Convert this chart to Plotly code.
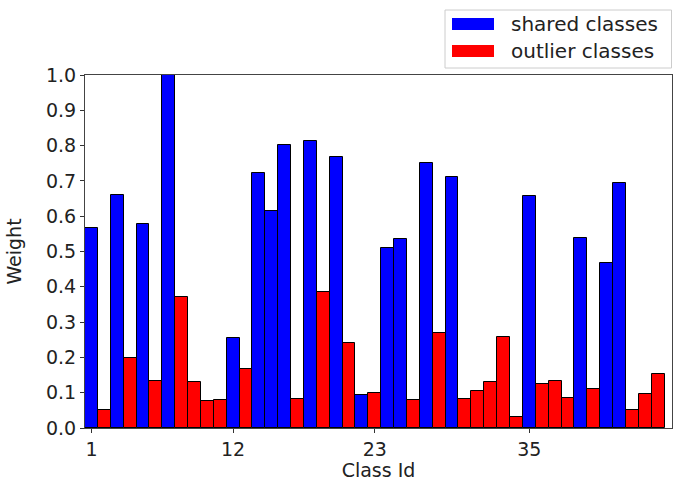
import plotly.graph_objects as go

# Per-class weights: each class is either shared or an outlier
class_ids = list(range(1, 46))
weights = [
    0.568, 0.050, 0.660, 0.199, 0.578, 0.133, 1.000, 0.372, 0.131, 0.077,
    0.080, 0.254, 0.167, 0.722, 0.616, 0.802, 0.081, 0.814, 0.384, 0.769,
    0.240, 0.093, 0.100, 0.509, 0.535, 0.080, 0.752, 0.268, 0.711, 0.081,
    0.105, 0.129, 0.257, 0.030, 0.658, 0.124, 0.133, 0.086, 0.539, 0.110,
    0.468, 0.695, 0.050, 0.096, 0.152,
]
kinds = list("SOSOSOSOOOOSOSSSOSOSOSOSSOSOSOOOOOSOOOSOSSOOO")

series_names = ["shared classes", "outlier classes"]
series_keys = ["S", "O"]
series_colors = ["#0000ff", "#ff0000"]

xtick_vals = [1, 12, 23, 35]
xtick_text = ["1", "12", "23", "35"]
ytick_vals = [round(0.1 * i, 1) for i in range(11)]

FONT = "DejaVu Sans"
TXT = "#222222"

fig = go.Figure()
for name, key, color in zip(series_names, series_keys, series_colors):
    xs = [c for c, k in zip(class_ids, kinds) if k == key]
    ys = [w for w, k in zip(weights, kinds) if k == key]
    fig.add_trace(go.Bar(
        x=xs, y=ys, name=name,
        marker=dict(color=color, line=dict(color="black", width=1)),
        showlegend=False,
    ))

# Legend box drawn in paper coordinates, outside the plot area (top right)
W, H, L, B = 587, 353, 85, 53
def px(xp):
    return (xp - L) / W
def py(yp):
    return (481 - B - yp) / H

shapes = [dict(type="rect", xref="paper", yref="paper",
               x0=px(445), x1=px(671.5), y0=py(68), y1=py(10),
               line=dict(color="#cccccc", width=1), fillcolor="white",
               layer="above")]
annotations = []
for i, (name, color) in enumerate(zip(series_names, series_colors)):
    yc = 24 + 27 * i
    shapes.append(dict(type="rect", xref="paper", yref="paper",
                       x0=px(452), x1=px(494), y0=py(yc + 6), y1=py(yc - 6),
                       line=dict(width=0), fillcolor=color, layer="above"))
    annotations.append(dict(xref="paper", yref="paper", x=px(509), y=py(yc),
                            xanchor="left", yanchor="middle", text=name,
                            showarrow=False,
                            font=dict(family=FONT, size=20, color=TXT)))

fig.update_layout(
    width=673, height=481,
    margin=dict(l=L, r=673 - L - W, t=481 - B - H, b=B),
    paper_bgcolor="white", plot_bgcolor="white",
    barmode="overlay", bargap=0,
    font=dict(family=FONT, size=19, color=TXT),
    shapes=shapes, annotations=annotations,
    xaxis=dict(
        range=[class_ids[0] - 0.5, class_ids[-1] + 1.08],
        tickvals=xtick_vals, ticktext=xtick_text,
        ticks="outside", ticklen=4, tickcolor="#333",
        showline=True, mirror=True, linecolor="#444", linewidth=1,
        showgrid=False, zeroline=False,
        title=dict(text="Class Id", font=dict(size=19), standoff=3),
        tickfont=dict(size=19),
    ),
    yaxis=dict(
        range=[0, 1.0],
        tickvals=ytick_vals, tickformat=".1f",
        ticks="outside", ticklen=4, tickcolor="#333",
        showline=True, mirror=True, linecolor="#444", linewidth=1,
        showgrid=False, zeroline=False,
        title=dict(text="Weight", font=dict(size=19), standoff=19),
        tickfont=dict(size=19),
    ),
)

fig.write_html("out.html")
